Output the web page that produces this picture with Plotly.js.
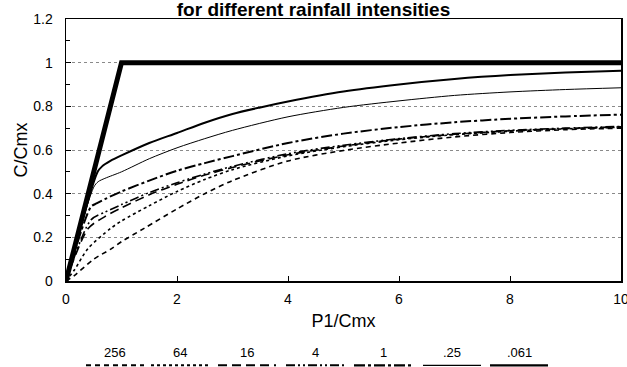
<!DOCTYPE html>
<html>
<head>
<meta charset="utf-8">
<script src="https://cdn.plot.ly/plotly-3.0.1.min.js"></script>
<style>html,body{margin:0;padding:0;background:#fff}#chart{width:627px;height:367px}</style>
</head>
<body>
<div id="chart"></div>
<script>
// ---- data ----
const seriesNames = ["256", "64", "16", "4", "1", ".25", ".061"];

const x256 = [0, 0.15, 0.5, 0.8, 1, 1.4, 2, 2.5, 3, 4, 5, 6, 7, 8, 9, 10];
const y256 = [0, 0.025, 0.1, 0.145, 0.18, 0.24, 0.33, 0.4, 0.46, 0.55, 0.598, 0.632, 0.66, 0.68, 0.693, 0.7];

const x64 = [0, 0.15, 0.4, 0.8, 1, 1.5, 2, 2.5, 3, 4, 5, 6, 7, 8, 9, 10];
const y64 = [0, 0.05, 0.15, 0.24, 0.275, 0.345, 0.41, 0.465, 0.51, 0.573, 0.615, 0.647, 0.67, 0.686, 0.697, 0.704];

const x16 = [0, 0.4, 0.7, 1, 1.5, 2, 2.5, 3, 4, 5, 6, 7, 8, 9, 10];
const y16 = [0, 0.24, 0.295, 0.335, 0.395, 0.443, 0.485, 0.52, 0.578, 0.618, 0.65, 0.672, 0.688, 0.698, 0.706];

const x4 = [0, 0.45, 0.7, 1, 1.5, 2, 2.5, 3, 4, 5, 6, 7, 8, 9, 10];
const y4 = [0, 0.28, 0.315, 0.35, 0.405, 0.45, 0.49, 0.525, 0.583, 0.622, 0.652, 0.675, 0.69, 0.7, 0.708];

const x1 = [0, 0.45, 0.55, 0.7, 1, 1.5, 2, 2.5, 3, 4, 5, 6, 7, 8, 9, 10];
const y1 = [0, 0.34, 0.355, 0.375, 0.41, 0.46, 0.505, 0.54, 0.572, 0.632, 0.675, 0.705, 0.727, 0.743, 0.754, 0.762];

const x025 = [0, 0.5, 0.58, 0.7, 1, 1.5, 2, 2.5, 3, 4, 5, 6, 7, 8, 9, 10];
const y025 = [0, 0.43, 0.455, 0.47, 0.5, 0.56, 0.61, 0.652, 0.69, 0.752, 0.795, 0.825, 0.85, 0.866, 0.877, 0.885];

const x061 = [0, 0.57, 0.65, 0.8, 1, 1.5, 2, 2.5, 3, 3.5, 4, 5, 6, 7, 8, 9, 10];
const y061 = [0, 0.5, 0.525, 0.55, 0.575, 0.632, 0.678, 0.725, 0.765, 0.795, 0.822, 0.868, 0.9, 0.925, 0.943, 0.955, 0.963];

const xLimit = [0, 1, 10];
const yLimit = [0, 1, 1];

const yTickVals = [0, 0.2, 0.4, 0.6, 0.8, 1, 1.2];
const xTickVals = [0, 2, 4, 6, 8, 10];

// ---- styles ----
const xsArr = [x256, x64, x16, x4, x1, x025, x061];
const ysArr = [y256, y64, y16, y4, y1, y025, y061];
const dashes = ["5px,4px", "dot", "9px,5px", "9px,3px,2px,3px,2px,3px", "11px,3px,3px,3px", "solid", "solid"];
const widths = [1.6, 1.6, 1.6, 1.6, 2, 1, 2];

const FONT = "Liberation Sans, Arial, sans-serif";

const traces = seriesNames.map((n, i) => ({
  type: "scatter", mode: "lines", name: n,
  x: xsArr[i], y: ysArr[i],
  line: {color: "#000", width: widths[i], dash: dashes[i], shape: "spline", smoothing: 0.8},
  hoverinfo: "skip"
}));
traces.push({
  type: "scatter", mode: "lines", name: "limit",
  x: xLimit, y: yLimit,
  line: {color: "#000", width: 5},
  hoverinfo: "skip"
});

// legend below the plot (labels + line samples)
const L = 66, R = 621, T = 19, B = 281.5;
const pw = R - L, ph = B - T;
const labelX = [115, 180, 247, 315, 383, 452, 519];
const px2x = p => (p - L) / pw;
const px2y = p => (B - p) / ph;

const annotations = seriesNames.map((n, i) => ({
  text: n, xref: "paper", yref: "paper",
  x: px2x(labelX[i]), y: px2y(353), xanchor: "center", yanchor: "middle",
  showarrow: false, font: {family: FONT, size: 13, color: "#000"}
}));
const shapes = seriesNames.map((n, i) => ({
  type: "line", xref: "paper", yref: "paper",
  x0: px2x(labelX[i] - 29), x1: px2x(labelX[i] + 29),
  y0: px2y(366), y1: px2y(366),
  line: {color: "#000", width: widths[i] + 0.4, dash: dashes[i]}
}));

const layout = {
  width: 627, height: 367,
  margin: {l: L, r: 627 - R, t: T, b: 367 - B, pad: 0},
  paper_bgcolor: "#fff", plot_bgcolor: "#fff",
  showlegend: false,
  font: {family: FONT, color: "#000", size: 14},
  title: {
    text: "for different rainfall intensities",
    font: {family: FONT, size: 19, weight: "bold", color: "#000"},
    x: 0.5, xref: "container", xanchor: "center",
    y: 1.004, yref: "container", yanchor: "middle"
  },
  xaxis: {
    range: [0, 10], tickvals: xTickVals, ticks: "inside", ticklen: 5, tickcolor: "#000",
    showgrid: false, zeroline: false,
    showline: true, linecolor: "#000", linewidth: 1.5, mirror: true,
    tickfont: {family: FONT, size: 14}, ticklabelstandoff: 5,
    ticklabeloverflow: "allow",
    title: {text: "P1/Cmx", font: {family: FONT, size: 18}, standoff: 8},
    automargin: false
  },
  yaxis: {
    range: [0, 1.2], tickvals: yTickVals, ticks: "inside", ticklen: 5, tickcolor: "#000",
    showgrid: true, gridcolor: "#8a8a8a", gridwidth: 1, griddash: "dot",
    zeroline: false,
    showline: true, linecolor: "#000", linewidth: 1.5, mirror: true,
    minor: {dtick: 0.1, ticks: "inside", ticklen: 4, tickcolor: "#000", showgrid: false},
    tickfont: {family: FONT, size: 14}, ticklabelstandoff: 9,
    title: {text: "C/Cmx", font: {family: FONT, size: 18}, standoff: 1},
    automargin: false
  },
  annotations: annotations,
  shapes: shapes
};

Plotly.newPlot("chart", traces, layout, {staticPlot: true, displayModeBar: false});
</script>
</body>
</html>
